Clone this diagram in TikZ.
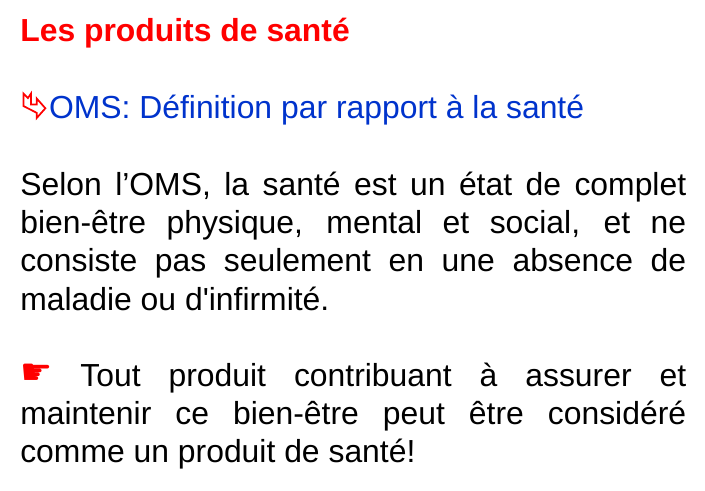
\documentclass[tikz,border=0pt]{standalone}
\usepackage{fontspec}
\setmainfont[Ligatures=TeXOff]{Liberation Sans}
\newfontfamily\symbfont{DejaVu Sans}
\usetikzlibrary{positioning}
\definecolor{TitleRed}{RGB}{255,0,0}
\definecolor{HeadBlue}{RGB}{0,51,204}

\begin{document}
\begin{tikzpicture}[
  x=1cm,y=1cm,
  para/.style={
    inner sep=0pt,
    anchor=north west,
    text width=17.62cm,
    align=justify,
    font=\fontsize{24}{28.75}\selectfont
  },
  line/.style={
    inner sep=0pt,
    anchor=base west,
    font=\fontsize{24}{28.75}\selectfont
  }
]

  \useasboundingbox (0,0) rectangle (18.653,12.965);

  \node[line, text=TitleRed, font=\fontsize{24}{28.75}\selectfont\bfseries] (title) at (0.53,11.87) {Les produits de santé};
  \node[line, text=HeadBlue] (oms) at (1.29,9.84) {OMS: Définition par rapport à la santé};

  % arrow in front of the heading
  \draw[TitleRed, line width=1.3pt, line join=miter]
    (0.62,10.49) -- (0.74,10.37) -- (0.82,10.49) -- (0.82,10.20) -- (0.97,10.20)
    -- (0.97,10.36) -- (1.20,10.10) -- (0.97,9.84) -- (0.97,9.98) -- (0.62,10.16) -- cycle;

  \node[para] (definition) at (0.53,8.42) {Selon l’OMS, la santé est un état de complet\linebreak
    bien-être physique, mental et social, et ne\linebreak
    consiste pas seulement en une absence de\linebreak
    maladie ou d'infirmité.};

  \node[para] (produit) at (0.53,3.38) {\raisebox{1.5pt}{\symbfont\fontsize{27}{28.75}\selectfont\textcolor{TitleRed}{☛}} Tout produit contribuant à assurer et\linebreak
    maintenir ce bien-être peut être considéré\linebreak
    comme un produit de santé!};

\end{tikzpicture}
\end{document}
